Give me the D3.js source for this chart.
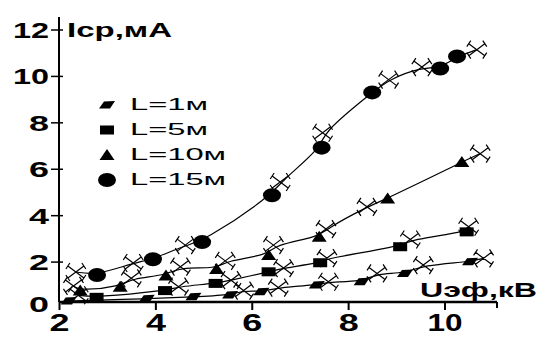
<!DOCTYPE html>
<html>
<head>
<meta charset="utf-8">
<script src="https://cdn.jsdelivr.net/npm/d3@7"></script>
<style>
    body { margin: 0; background: #fff; }
    svg { display: block; }
    text { font-family: "Liberation Sans", Arial, sans-serif; fill: #000; }
</style>
</head>
<body>
<div id="chart"></div>
<script>
// series names
var seriesNames = ["L=1м", "L=5м", "L=10м", "L=15м"];
var seriesShapes = ["para", "square", "triangle", "circle"];

// measured points (filled markers)
var l1X = [2.2, 3.82, 4.79, 5.55, 6.2, 7.35, 8.28, 9.18, 10.53];
var l1Y = [0.3, 0.4, 0.48, 0.56, 0.7, 0.99, 1.13, 1.49, 1.99];
var l5X = [2.78, 4.2, 5.25, 6.35, 7.42, 9.08, 10.46];
var l5Y = [0.46, 0.75, 1.06, 1.56, 1.95, 2.64, 3.28];
var l10X = [2.44, 3.27, 4.22, 5.27, 6.35, 7.4, 8.82, 10.36];
var l10Y = [0.75, 0.92, 1.4, 1.68, 2.28, 3.07, 4.72, 6.29];
var l15X = [2.79, 3.95, 4.97, 6.42, 7.45, 8.5, 9.91, 10.26];
var l15Y = [1.42, 2.1, 2.84, 4.86, 6.91, 9.29, 10.32, 10.84];

// calculated points (x-shaped markers)
var c1X = [5.83, 6.55, 7.59, 8.6, 9.56, 10.81];
var c1Y = [0.75, 0.88, 1.13, 1.49, 1.85, 2.14];
var c5X = [2.4, 4.48, 5.57, 6.66, 7.56, 9.29, 10.5];
var c5Y = [0.55, 0.92, 1.2, 1.72, 2.15, 2.95, 3.5];
var c10X = [2.3, 3.5, 4.52, 5.45, 6.45, 7.54, 8.39, 10.74];
var c10Y = [0.95, 1.28, 1.78, 2.03, 2.71, 3.4, 4.36, 6.65];
var c15X = [2.35, 3.54, 4.62, 6.59, 7.47, 8.84, 9.53, 10.67];
var c15Y = [1.55, 1.94, 2.71, 5.43, 7.55, 9.84, 10.38, 11.13];

var xTicks = [2, 4, 6, 8, 10];
var yTicks = [2, 4, 6, 8, 10, 12];

var width = 539,
    height = 337;

var measured = [[l1X, l1Y], [l5X, l5Y], [l10X, l10Y], [l15X, l15Y]];
var calculated = [[c1X, c1Y], [c5X, c5Y], [c10X, c10Y], [c15X, c15Y]];

function toPoints(pair) {
    return pair[0].map(function (v, i) {
        return { x: v, y: pair[1][i] };
    });
}

var series = seriesNames.map(function (name, i) {
    return {
        name: name,
        shape: seriesShapes[i],
        marks: toPoints(measured[i]),
        calc: toPoints(calculated[i])
    };
});

var x = d3.scaleLinear()
    .domain([2, 10])
    .range([59, 444.5]);

var y = d3.scaleLinear()
    .domain([0, 12])
    .range([308, 29.5]);

var axisY = 302;

var svg = d3.select("#chart").append("svg")
    .attr("width", width)
    .attr("height", height);

// marker shapes
function drawShape(g, shape) {
    if (shape === "circle") {
        g.append("ellipse").attr("rx", 9).attr("ry", 7);
    } else if (shape === "square") {
        g.append("rect").attr("x", -7).attr("y", -4.5).attr("width", 14).attr("height", 9);
    } else if (shape === "triangle") {
        g.append("path").attr("d", "M0,-6L7.5,5L-7.5,5Z");
    } else {
        g.append("path").attr("d", "M-3,-3.5L8,-4L3,3.5L-8,3.5Z");
    }
}

function drawCross(g) {
    var p = "M-8,-6L8,6M-8,6L8,-6" +
        "M-10,-3L-6,-9M6,9L10,3M-10,3L-6,9M6,-9L10,-3";
    g.append("path")
        .attr("d", p)
        .attr("fill", "none")
        .attr("stroke", "#000")
        .attr("stroke-width", 1.2);
}

// axes
var xAxis = d3.axisBottom(x)
    .tickValues(xTicks)
    .tickSize(8)
    .tickSizeOuter(0);

var gx = svg.append("g")
    .attr("transform", "translate(0," + axisY + ")")
    .call(xAxis);
gx.select(".domain").remove();
gx.selectAll(".tick line").attr("stroke", "#000").attr("stroke-width", 2);
gx.selectAll(".tick text")
    .attr("y", 12)
    .attr("dy", "0.71em")
    .style("font-size", "24px")
    .style("font-weight", "bold")
    .attr("textLength", function (d) { return d >= 10 ? 35 : 20; })
    .attr("lengthAdjust", "spacingAndGlyphs");

svg.append("line")
    .attr("x1", x(2)).attr("x2", 497)
    .attr("y1", axisY).attr("y2", axisY)
    .attr("stroke", "#000").attr("stroke-width", 2.5);
svg.append("line")
    .attr("x1", 497).attr("x2", 497)
    .attr("y1", axisY).attr("y2", axisY + 6)
    .attr("stroke", "#000").attr("stroke-width", 2);

var yAxis = d3.axisLeft(y)
    .tickValues(yTicks)
    .tickSize(8)
    .tickSizeOuter(0);

var gy = svg.append("g")
    .attr("transform", "translate(" + x(2) + ",0)")
    .call(yAxis);
gy.select(".domain").remove();
gy.selectAll(".tick line").attr("x1", 4).attr("stroke", "#000").attr("stroke-width", 1.5);
gy.selectAll(".tick text")
    .attr("x", -10)
    .attr("dy", "0.36em")
    .style("font-size", "22px")
    .style("font-weight", "bold")
    .attr("textLength", function (d) { return d >= 10 ? 36 : 20; })
    .attr("lengthAdjust", "spacingAndGlyphs");

// the zero label sits on the x axis
svg.append("text")
    .attr("x", x(2) - 10)
    .attr("y", y(0) - 4)
    .attr("dy", "0.36em")
    .attr("text-anchor", "end")
    .style("font-size", "22px")
    .style("font-weight", "bold")
    .attr("textLength", 20)
    .attr("lengthAdjust", "spacingAndGlyphs")
    .text("0");

svg.append("line")
    .attr("x1", x(2)).attr("x2", x(2))
    .attr("y1", 17).attr("y2", axisY)
    .attr("stroke", "#000").attr("stroke-width", 2);

// axis titles
svg.append("text")
    .attr("x", 67)
    .attr("y", 37)
    .style("font-size", "21px")
    .style("font-weight", "bold")
    .attr("textLength", 105)
    .attr("lengthAdjust", "spacingAndGlyphs")
    .text("Iср,мА");

svg.append("text")
    .attr("x", 420)
    .attr("y", 297)
    .style("font-size", "21px")
    .style("font-weight", "bold")
    .attr("textLength", 117)
    .attr("lengthAdjust", "spacingAndGlyphs")
    .text("Uэф,кВ");

// curves
var line = d3.line()
    .x(function (d) { return x(d.x); })
    .y(function (d) { return y(d.y); })
    .curve(d3.curveBasis);

series.forEach(function (s) {
    var pts = s.marks.concat(s.calc).sort(function (a, b) { return a.x - b.x; });
    svg.append("path")
        .datum(pts)
        .attr("d", line)
        .attr("fill", "none")
        .attr("stroke", "#000")
        .attr("stroke-width", 1.2);

    svg.selectAll(null)
        .data(s.calc)
        .enter().append("g")
        .attr("transform", function (d) { return "translate(" + x(d.x) + "," + y(d.y) + ")"; })
        .each(function () { drawCross(d3.select(this)); });

    svg.selectAll(null)
        .data(s.marks)
        .enter().append("g")
        .attr("fill", "#000")
        .attr("transform", function (d) { return "translate(" + x(d.x) + "," + y(d.y) + ")"; })
        .each(function () { drawShape(d3.select(this), s.shape); });
});

// legend
var legend = svg.append("g");
series.forEach(function (s, i) {
    var base = 110 + i * 25;
    var mk = legend.append("g")
        .attr("fill", "#000")
        .attr("transform", "translate(107," + (base - 5) + ")");
    drawShape(mk, s.shape);
    legend.append("text")
        .attr("x", 130)
        .attr("y", base)
        .style("font-size", "17px")
        .attr("textLength", s.name.length > 4 ? 96 : 78)
        .attr("lengthAdjust", "spacingAndGlyphs")
        .text(s.name);
});
</script>
</body>
</html>
